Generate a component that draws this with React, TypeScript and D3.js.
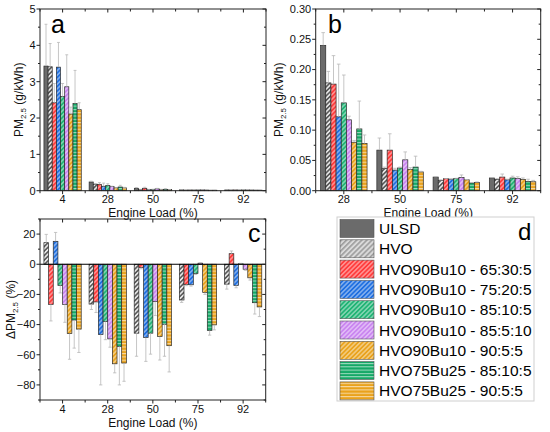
import React from 'react';
import * as d3 from 'd3';

// engine load categories
const loadsAll = ['4', '28', '50', '75', '92'];
const loadsZoom = ['28', '50', '75', '92'];

const seriesNames = [
  'ULSD',
  'HVO',
  'HVO90Bu10 - 65:30:5',
  'HVO90Bu10 - 75:20:5',
  'HVO90Bu10 - 85:10:5',
  'HVO90Bu10 - 85:5:10',
  'HVO90Bu10 - 90:5:5',
  'HVO75Bu25 - 85:10:5',
  'HVO75Bu25 - 90:5:5',
];

// PM2.5 (g/kWh) per series, across loadsAll
const pmULSD = [3.43, 0.240, 0.067, 0.0225, 0.021];
const pmHVO = [3.41, 0.178, 0.037, 0.017, 0.0187];
const pm65305 = [2.42, 0.176, 0.067, 0.0198, 0.0225];
const pm75205 = [3.40, 0.122, 0.034, 0.019, 0.018];
const pm85105 = [2.59, 0.145, 0.0375, 0.020, 0.021];
const pm85510 = [2.86, 0.117, 0.051, 0.022, 0.020];
const pm9055 = [2.11, 0.080, 0.035, 0.018, 0.0187];
const pm25_85105 = [2.40, 0.102, 0.039, 0.0126, 0.0154];
const pm25_9055 = [2.23, 0.078, 0.031, 0.0137, 0.0148];

// upper error bar ends
const errULSD = [4.58, 0.261, 0.087, 0.023, 0.0215];
const errHVO = [4.05, 0.197, 0.039, 0.018, 0.020];
const err65305 = [2.95, 0.223, 0.094, 0.020, 0.0275];
const err75205 = [4.08, 0.209, 0.037, 0.0195, 0.019];
const err85105 = [2.95, 0.191, 0.039, 0.0205, 0.024];
const err85510 = [3.74, 0.123, 0.064, 0.026, 0.023];
const err9055 = [2.30, 0.083, 0.038, 0.0185, 0.021];
const err25_85105 = [3.31, 0.148, 0.057, 0.0135, 0.019];
const err25_9055 = [2.42, 0.092, 0.032, 0.0145, 0.017];

// delta PM2.5 (%) vs ULSD, across loadsAll
const dHVO = [14.3, -26.4, -45.7, -23.7, -13.2];
const d65305 = [-26.6, -25, -2.2, -13.4, 7];
const d75205 = [15.2, -46.6, -48.6, -13.6, -14];
const d85105 = [-14, -38, -45.7, -6.2, 0.3];
const d85510 = [-26.6, -49.5, -24.8, 0.7, -3.3];
const d9055 = [-46, -66, -48, -18.7, -9];
const d25_85105 = [-37, -54.5, -39.8, -44, -25.5];
const d25_9055 = [-43, -65.5, -54, -40.2, -28.3];

const dErrHVO = [19.8, -30, -61, -25.3, -16.5];
const dErr65305 = [-37.6, -32, -3, -14.2, 8.8];
const dErr75205 = [21.1, -80, -64.4, -14.5, -15.6];
const dErr85105 = [-19, -50, -59.6, -6.8, 0.6];
const dErr85510 = [-38.5, -55, -34, 1, -4];
const dErr9055 = [-63, -72, -63.5, -20, -10.5];
const dErr25_85105 = [-55.6, -80, -61, -47, -33];
const dErr25_9055 = [-58.5, -77.6, -71.4, -43.5, -34.7];

const pmValues = [pmULSD, pmHVO, pm65305, pm75205, pm85105, pm85510, pm9055, pm25_85105, pm25_9055];
const pmErrors = [errULSD, errHVO, err65305, err75205, err85105, err85510, err9055, err25_85105, err25_9055];
const dValues = [dHVO, d65305, d75205, d85105, d85510, d9055, d25_85105, d25_9055];
const dErrors = [dErrHVO, dErr65305, dErr75205, dErr85105, dErr85510, dErr9055, dErr25_85105, dErr25_9055];

const font = '"Liberation Sans", Arial, sans-serif';

// fill for each series (patterns defined below)
const fills = [
  '#6b6b6b',
  'url(#p-hvo)',
  'url(#p-red)',
  'url(#p-blue)',
  'url(#p-green)',
  'url(#p-purple)',
  'url(#p-orange)',
  'url(#p-greenh)',
  'url(#p-orangeh)',
];

function Patterns() {
  const diag = [
    ['p-red', '#ff3b3b'],
    ['p-blue', '#1f6fe0'],
    ['p-green', '#1fb374'],
    ['p-purple', '#c984f0'],
    ['p-orange', '#e9a21c'],
  ];
  return (
    <defs>
      <pattern id="p-hvo" width="3.2" height="3.2" patternUnits="userSpaceOnUse" patternTransform="rotate(45)">
        <rect width="3.2" height="3.2" fill="#e6e6e6" />
        <line x1="0.8" y1="0" x2="0.8" y2="3.2" stroke="#3a3a3a" strokeWidth="1.3" />
      </pattern>
      <pattern id="p-hvo-l" width="3.6" height="3.6" patternUnits="userSpaceOnUse" patternTransform="rotate(45)">
        <rect width="3.6" height="3.6" fill="#d9d9d9" />
        <line x1="0.8" y1="0" x2="0.8" y2="3.6" stroke="#888" strokeWidth="1.2" />
      </pattern>
      {diag.map(([id, c]) => (
        <pattern key={id} id={id} width="3.2" height="3.2" patternUnits="userSpaceOnUse" patternTransform="rotate(45)">
          <rect width="3.2" height="3.2" fill={c} />
          <line x1="0.8" y1="0" x2="0.8" y2="3.2" stroke="#ffffff" strokeWidth="0.8" strokeOpacity="0.85" />
        </pattern>
      ))}
      <pattern id="p-greenh" width="4" height="3.3" patternUnits="userSpaceOnUse">
        <rect width="4" height="3.3" fill="#14a866" />
        <line x1="0" y1="0.6" x2="4" y2="0.6" stroke="#ffffff" strokeWidth="0.8" strokeOpacity="0.85" />
      </pattern>
      <pattern id="p-orangeh" width="4" height="3.3" patternUnits="userSpaceOnUse">
        <rect width="4" height="3.3" fill="#e9a21c" />
        <line x1="0" y1="0.6" x2="4" y2="0.6" stroke="#ffffff" strokeWidth="0.8" strokeOpacity="0.85" />
      </pattern>
    </defs>
  );
}

interface PanelProps {
  left: number; right: number; top: number; bottom: number;
  cats: string[]; catIdx: number[];
  values: number[][]; errors: number[][]; fillOffset: number;
  yDomain: [number, number]; yTicks: number[]; yMinor: number[];
  fmt: (v: number) => string;
  letter: string; letterX: number; letterY: number;
  yLabelX: number; yTitle: 'pm' | 'dpm';
  zeroLine?: boolean;
}

function Panel(p: PanelProps) {
  const x0 = d3.scaleBand<string>().domain(p.cats).range([p.left, p.right]).padding(0);
  const bw = x0.bandwidth();
  const x1 = d3.scaleBand<number>().domain(d3.range(p.values.length)).range([bw * 0.087, bw * 0.913]).padding(0);
  const y = d3.scaleLinear().domain(p.yDomain).range([p.bottom, p.top]);
  const base = y(0);
  const bounds = d3.range(p.cats.length + 1).map((i) => p.left + i * bw);
  const midY = (p.top + p.bottom) / 2;
  return (
    <g fontFamily={font}>
      {/* bars */}
      {p.values.map((vals, s) =>
        p.cats.map((c, ci) => {
          const v = vals[p.catIdx[ci]];
          const bx = (x0(c) as number) + (x1(s) as number);
          const yy = Math.min(y(v), base);
          const hh = Math.abs(y(v) - base);
          return (
            <rect key={`b${s}-${c}`} x={bx} y={yy} width={x1.bandwidth()} height={hh}
              fill={fills[s + p.fillOffset]} stroke="#2a2a2a" strokeWidth={0.7} />
          );
        })
      )}
      {/* error bars */}
      {p.errors.map((errs, s) =>
        p.cats.map((c, ci) => {
          const v = p.values[s][p.catIdx[ci]];
          const e = errs[p.catIdx[ci]];
          const cx = (x0(c) as number) + (x1(s) as number) + x1.bandwidth() / 2;
          const cw = x1.bandwidth() * 0.35;
          return (
            <g key={`e${s}-${c}`} stroke="#b8b8b8" strokeWidth={0.8}>
              <line x1={cx} x2={cx} y1={y(v)} y2={y(e)} />
              <line x1={cx - cw} x2={cx + cw} y1={y(e)} y2={y(e)} />
            </g>
          );
        })
      )}
      {p.zeroLine && <line x1={p.left} x2={p.right} y1={base} y2={base} stroke="#000" strokeWidth={1} />}
      {/* frame */}
      <rect x={p.left} y={p.top} width={p.right - p.left} height={p.bottom - p.top} fill="none" stroke="#222" strokeWidth={1} />
      {/* y ticks */}
      {p.yTicks.map((t) => (
        <g key={`yt${t}`}>
          <line x1={p.left - 3.5} x2={p.left} y1={y(t)} y2={y(t)} stroke="#222" />
          <line x1={p.right - 3.5} x2={p.right} y1={y(t)} y2={y(t)} stroke="#222" />
          <text x={p.left - 4.5} y={y(t)} dy="0.35em" textAnchor="end" fontSize={11} fill="#111">{p.fmt(t)}</text>
        </g>
      ))}
      {p.yMinor.map((t) => (
        <g key={`ym${t}`}>
          <line x1={p.left - 2} x2={p.left} y1={y(t)} y2={y(t)} stroke="#222" />
          <line x1={p.right - 2} x2={p.right} y1={y(t)} y2={y(t)} stroke="#222" />
        </g>
      ))}
      {/* x ticks: centres and boundaries */}
      {p.cats.map((c) => {
        const cx = (x0(c) as number) + bw / 2;
        return (
          <g key={`xt${c}`}>
            <line x1={cx} x2={cx} y1={p.bottom} y2={p.bottom + 3.5} stroke="#222" />
            <line x1={cx} x2={cx} y1={p.top} y2={p.top + 3.5} stroke="#222" />
            <text x={cx} y={p.bottom + 12.5} textAnchor="middle" fontSize={11} fill="#111">{c}</text>
          </g>
        );
      })}
      {bounds.map((bx, i) => (
        <g key={`xb${i}`}>
          <line x1={bx} x2={bx} y1={p.bottom} y2={p.bottom + 2.5} stroke="#222" />
          <line x1={bx} x2={bx} y1={p.top} y2={p.top + 2.5} stroke="#222" />
        </g>
      ))}
      <text x={(p.left + p.right) / 2} y={p.bottom + 26.5} textAnchor="middle" fontSize={12} fill="#111">Engine Load (%)</text>
      <text transform={`translate(${p.yLabelX},${midY}) rotate(-90)`} textAnchor="middle" fontSize={12} fill="#111">
        {p.yTitle === 'pm' ? 'PM' : '\u0394PM'}
        <tspan fontSize={8} dy={3}>2.5</tspan>
        <tspan dy={-3}>{p.yTitle === 'pm' ? ' (g/kWh)' : ' (%)'}</tspan>
      </text>
      <text x={p.letterX} y={p.letterY} fontSize={25} fill="#000">{p.letter}</text>
    </g>
  );
}

function Legend() {
  const lx = 337, ly = 217, lw = 197, lh = 184;
  const row = 20.3;
  return (
    <g fontFamily={font}>
      <rect x={lx} y={ly} width={lw} height={lh} fill="#fff" stroke="#cfcfcf" strokeWidth={1} />
      {seriesNames.map((n, i) => {
        const cy = 228.5 + i * row;
        return (
          <g key={n}>
            <rect x={340} y={cy - 9} width={34} height={18} fill={i === 1 ? 'url(#p-hvo-l)' : fills[i]} stroke="#555" strokeWidth={0.6} />
            <text x={379} y={cy} dy="0.36em" fontSize={15.5} fill="#000">{n}</text>
          </g>
        );
      })}
      <text x={518} y={240} fontSize={24} fill="#000">d</text>
    </g>
  );
}

export default function App() {
  const idx5 = [0, 1, 2, 3, 4];
  const idx4 = [1, 2, 3, 4];
  return (
    <div style={{ position: 'absolute', left: 0, top: 0 }}>
      <svg width={550} height={432} style={{ display: 'block', background: '#fff' }}>
        <Patterns />
        <Panel left={40} right={266} top={9} bottom={190.7} cats={loadsAll} catIdx={idx5}
          values={pmValues} errors={pmErrors} fillOffset={0}
          yDomain={[0, 5]} yTicks={[0, 1, 2, 3, 4, 5]} yMinor={[0.5, 1.5, 2.5, 3.5, 4.5]}
          fmt={d3.format('d')} letter="a" letterX={51} letterY={33} yLabelX={23} yTitle="pm" />
        <Panel left={315.7} right={540.7} top={9} bottom={190.7} cats={loadsZoom} catIdx={idx4}
          values={pmValues} errors={pmErrors} fillOffset={0}
          yDomain={[0, 0.3]} yTicks={d3.range(0, 0.301, 0.05)} yMinor={d3.range(0.025, 0.3, 0.05)}
          fmt={d3.format('.2f')} letter="b" letterX={328} letterY={33} yLabelX={283} yTitle="pm" />
        <Panel left={40} right={265.7} top={219} bottom={400} cats={loadsAll} catIdx={idx5}
          values={dValues} errors={dErrors} fillOffset={1}
          yDomain={[-90, 30]} yTicks={[-80, -60, -40, -20, 0, 20]} yMinor={[-90, -70, -50, -30, -10, 10, 30]}
          fmt={d3.format('d')} letter="c" letterX={248} letterY={242} yLabelX={15} yTitle="dpm" zeroLine />
        <Legend />
      </svg>
    </div>
  );
}
